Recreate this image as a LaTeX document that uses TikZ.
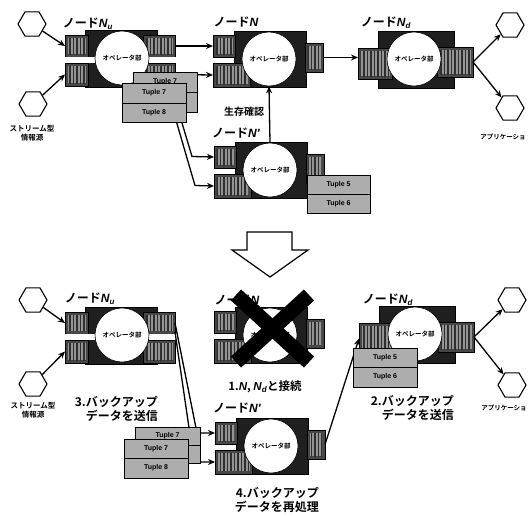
\documentclass[tikz,border=0pt]{standalone}
\usepackage{fontspec}
\IfFontExistsTF{Noto Sans CJK JP Bold}{\setmainfont{Noto Sans CJK JP}[BoldFont={Noto Sans CJK JP Bold}]}{\setmainfont{Noto Sans CJK JP}[AutoFakeBold=2]}
\newfontfamily\lsans{Liberation Sans}
\usetikzlibrary{shapes.geometric,arrows.meta,patterns.meta}
\newcommand\NN[1]{{\lsans\bfseries\itshape N}\textsubscript{\lsans\bfseries\itshape #1}}
\newcommand\NI{{\lsans\bfseries\itshape N}}
\newcommand\bx[7]{%
 \pgfmathsetmacro\bxw{(#5)-(#3)}\pgfmathsetmacro\bxh{(#6)-(#4)}%
 \pgfmathsetmacro\bxx{((#3)+(#5))/2}\pgfmathsetmacro\bxy{((#4)+(#6))/2}%
 \node[#1, minimum width=\bxw pt, minimum height=\bxh pt] (#2) at (\bxx,\bxy) {#7};}
% node with two inputs and two outputs
\newcommand\nodeU[3]{%
 \bx{body}{#1-b}{#2-37}{#3-28}{#2+35}{#3+29}{}
 \bx{queue}{#1-lu}{#2-57}{#3-23}{#2-34}{#3-1}{}
 \bx{queue}{#1-ll}{#2-57}{#3+5}{#2-34}{#3+28}{}
 \bx{queue}{#1-ru}{#2+21}{#3-23}{#2+53}{#3-1}{}
 \bx{queue}{#1-rl}{#2+21}{#3+5}{#2+53}{#3+28}{}
 \bx{gap}{#1-gl}{#2-57}{#3-1}{#2-22}{#3+5}{}
 \bx{gap}{#1-gr}{#2+22}{#3-1}{#2+54}{#3+5}{}
 \node[opcirc] (#1-c) at (#2,#3) {オペレータ部};}
% node with two inputs and one output
\newcommand\nodeN[3]{%
 \bx{body}{#1-b}{#2-35}{#3-28}{#2+37}{#3+28}{}
 \bx{queue}{#1-lu}{#2-56}{#3-24}{#2-34}{#3-2}{}
 \bx{queue}{#1-ll}{#2-56}{#3+4}{#2-19}{#3+28}{}
 \bx{queue}{#1-r}{#2+36}{#3-16}{#2+54}{#3+13}{}
 \node[opcirc] (#1-c) at (#2,#3) {オペレータ部};}
% node with one input and one output
\newcommand\nodeD[3]{%
 \bx{body}{#1-b}{#2-36}{#3-28}{#2+40}{#3+29}{}
 \bx{queue}{#1-l}{#2-56}{#3-11}{#2-22}{#3+20}{}
 \bx{queue}{#1-r}{#2+23}{#3-12}{#2+59}{#3+18}{}
 \node[opcirc] (#1-c) at (#2,#3) {オペレータ部};}
\tikzset{
 body/.style={rectangle, fill=black!88, draw=black, line width=0.6pt, inner sep=0pt, outer sep=0pt},
 gap/.style={rectangle, fill=white, draw=none, inner sep=0pt, outer sep=0pt},
 queue/.style={rectangle, draw=black, line width=0.5pt, fill=black!72, inner sep=0pt, outer sep=0pt,
  path picture={
   \fill[black!42] ([xshift=2.5pt,yshift=-3pt]path picture bounding box.north west) rectangle ([xshift=-2.5pt,yshift=3pt]path picture bounding box.south east);
   \fill[pattern={Lines[angle=90,distance=3.5pt,line width=1.5pt]}, pattern color=black!82] ([xshift=2.5pt,yshift=-3pt]path picture bounding box.north west) rectangle ([xshift=-2.5pt,yshift=3pt]path picture bounding box.south east);}},
 opcirc/.style={circle, fill=white, draw=black, line width=0.6pt, inner sep=0pt, minimum size=54pt, font=\bfseries\fontsize{6.5}{7}\selectfont},
 tuple/.style={rectangle, fill=black!32, draw=black, line width=0.6pt, inner sep=0pt, font=\lsans\bfseries\fontsize{7}{8}\selectfont},
 hexa/.style={regular polygon, regular polygon sides=6, draw=black, line width=1.1pt, fill=white, minimum size=28pt, inner sep=0pt},
 lab/.style={font=\bfseries\fontsize{12}{13}\selectfont, inner sep=0pt},
 biglab/.style={font=\bfseries\fontsize{12}{14}\selectfont, inner sep=0pt, align=right, anchor=east},
 steplab/.style={font=\bfseries\fontsize{11.5}{13}\selectfont, inner sep=0pt},
 small/.style={font=\bfseries\fontsize{7.5}{9.5}\selectfont, inner sep=0pt, align=center},
 tinylab/.style={font=\bfseries\fontsize{6.5}{8}\selectfont, inner sep=0pt},
 arr/.style={-{Stealth[length=7pt,width=6pt]}, line width=1.3pt},
 bigarrow/.style={draw=black, line width=1.2pt, fill=white, line join=miter},
 cross/.style={line width=15pt, black},
}
\begin{document}
\begin{tikzpicture}[x=1pt,y=-1pt]
\useasboundingbox (0,0) rectangle (529,515);

% ================= TOP HALF =================
\node[hexa] (h1) at (32,24) {};
\node[hexa] (h2) at (33,104) {};
\node[small] (src1) at (32,133) {ストリーム型\\情報源};

\nodeU{Nu}{122}{58}
\nodeN{N}{269}{59}
\nodeN{Np}{270}{170}
\nodeD{Nd}{414}{59}

\node[lab] (lNu) at (88,24) {ノード\NN{u}};
\node[lab] (lN) at (236,22) {ノード\NI};
\node[lab] (lNp) at (236,133) {ノード{\lsans\bfseries\itshape N'}};
\node[lab] (lNd) at (386,23) {ノード\NN{d}};

\node[hexa] (h3) at (510,25) {};
\node[hexa] (h4) at (510,108) {};
\node[tinylab] (app1) at (503,137) {アプリケーショ};

\draw[arr] (h1) -- (Nu-lu.west);
\draw[arr] (h2) -- (Nu-ll.west);
\draw[arr] (Nu-ru.east) -- (N-lu.west);
\draw[arr] (Nu-rl.east) -- (N-ll.west);
\coordinate (bA) at (192,156.5);
\coordinate (bB) at (195,185.5);
\draw[arr] ([xshift=-4pt]Nu-rl.south east) -- (bA) -- (Np-lu.west);
\draw[arr] ([xshift=-9pt]Nu-rl.south east) -- (bB) -- (Np-ll.west);
\draw[arr] (Np-c.north) -- (N-c.south);
\node[steplab, font=\bfseries\fontsize{10}{11}\selectfont] (alive) at (244,112) {生存確認};
\draw[arr] (N-r.east) -- (N-r.east -| Nd-l.west);
\draw[arr] (Nd-r.east) -- (h3);
\draw[arr] (Nd-r.east) -- (h4);

% tuples (top)
\bx{tuple}{t1b7}{133}{72}{197}{92}{Tuple 7}
\bx{tuple}{t1b8}{133}{92}{197}{112}{}
\bx{tuple}{t1f7}{122}{83}{186}{103}{Tuple 7}
\bx{tuple}{t1f8}{122}{103}{186}{122}{Tuple 8}
\bx{tuple}{t15}{307}{175}{370}{194}{Tuple 5}
\bx{tuple}{t16}{307}{194}{370}{213}{Tuple 6}

% ================= BIG ARROW =================
\coordinate (a1) at (247,232);
\coordinate (a2) at (292,232);
\coordinate (a3) at (292,250);
\coordinate (a4) at (308,250);
\coordinate (a5) at (270,277);
\coordinate (a6) at (232,250);
\coordinate (a7) at (247,250);
\draw[bigarrow] (a1) -- (a2) -- (a3) -- (a4) -- (a5) -- (a6) -- (a7) -- cycle;

% ================= BOTTOM HALF =================
\node[hexa] (h5) at (33,300) {};
\node[hexa] (h6) at (33,384) {};
\node[small] (src2) at (33,410) {ストリーム型\\情報源};

\nodeU{Nu2}{122}{335}
\nodeN{Nf}{270}{335}
\nodeN{Np2}{271}{446}
\nodeD{Nd2}{415}{334}

\node[lab] (lNu2) at (90,299) {ノード\NN{u}};
\node[lab] (lNf) at (237,300) {ノード\NI};
\node[lab] (lNp2) at (237,408) {ノード{\lsans\bfseries\itshape N'}};
\node[lab] (lNd2) at (388,300) {ノード\NN{d}};

\coordinate (x1) at (236,295);
\coordinate (x2) at (309,362);
\coordinate (x3) at (309,295);
\coordinate (x4) at (236,362);
\draw[cross] (x1) -- (x2);
\draw[cross] (x3) -- (x4);
\node[steplab] (s1) at (265,387) {1.\NI, \NN{d}と接続};

\node[hexa] (h7) at (512,300) {};
\node[hexa] (h8) at (512,385) {};
\node[tinylab] (app2) at (504,408) {アプリケーショ};

\draw[arr] (h5) -- (Nu2-lu.west);
\draw[arr] (h6) -- (Nu2-ll.west);
\coordinate (cA) at (197,433);
\coordinate (cB) at (194,462);
\draw[arr] (Nu2-ru.east) -- (cA) -- (Np2-lu.west);
\draw[arr] ([yshift=2pt]Nu2-ru.south east) -- (cB) -- (Np2-ll.west);
\draw[arr] (Np2-r.east) -- (Nd2-l.west);
\draw[arr] (Nd2-r.east) -- (h7);
\draw[arr] (Nd2-r.east) -- (h8);

% tuples (bottom)
\bx{tuple}{t2b7}{135}{427}{200}{445}{Tuple 7}
\bx{tuple}{t2b8}{135}{445}{200}{463}{}
\bx{tuple}{t2f7}{124}{439}{188}{458}{Tuple 7}
\bx{tuple}{t2f8}{124}{458}{188}{478}{Tuple 8}
\bx{tuple}{t25}{353}{348}{417}{367}{Tuple 5}
\bx{tuple}{t26}{353}{367}{417}{387}{Tuple 6}

\node[biglab] (s3) at (158,409) {3.バックアップ\\データを送信};
\node[biglab] (s2) at (454,408) {2.バックアップ\\データを送信};
\node[biglab] (s4) at (319,500) {4.バックアップ\\データを再処理};
\end{tikzpicture}
\end{document}
